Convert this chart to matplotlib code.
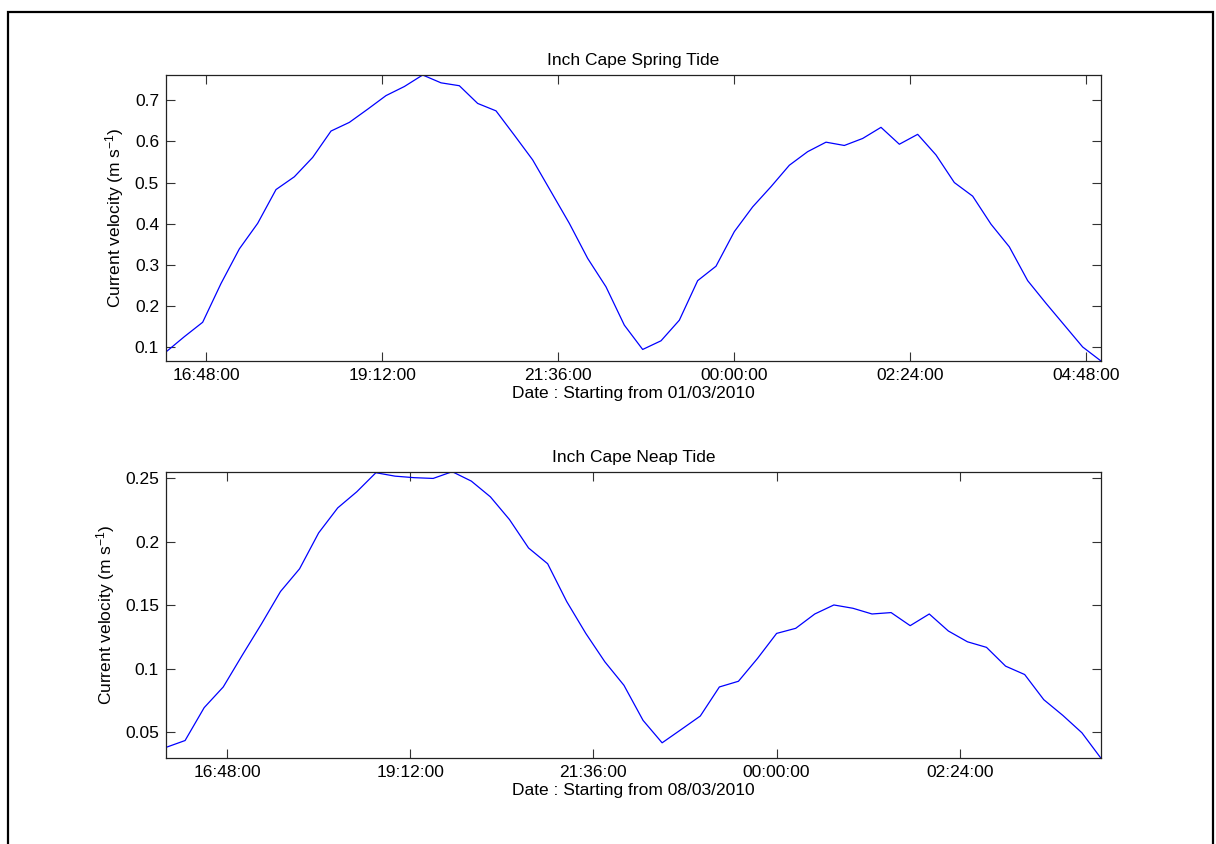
import numpy as np
import matplotlib
matplotlib.use("Agg")
import matplotlib.pyplot as plt
import matplotlib.dates as mdates
from matplotlib.patches import Rectangle

plt.rcParams['font.family'] = ['Liberation Sans', 'DejaVu Sans']
plt.rcParams['mathtext.default'] = 'regular'

# ---------------- data ----------------
spring_title = "Inch Cape Spring Tide"
neap_title = "Inch Cape Neap Tide"
spring_xlabel = "Date : Starting from 01/03/2010"
neap_xlabel = "Date : Starting from 08/03/2010"
ylabel = "Current velocity (m s$^{-1}$)"

spring_start = np.datetime64("2010-03-01T16:15")
neap_start = np.datetime64("2010-03-08T16:00")
step_minutes = 15

spring_velocity = [
    0.089, 0.126, 0.161, 0.255, 0.339, 0.401, 0.483, 0.514, 0.561, 0.625,
    0.646, 0.678, 0.711, 0.733, 0.761, 0.742, 0.735, 0.692, 0.674, 0.615,
    0.555, 0.478, 0.401, 0.316, 0.247, 0.154, 0.095, 0.116, 0.166, 0.262,
    0.297, 0.381, 0.441, 0.490, 0.542, 0.575, 0.598, 0.590, 0.607, 0.634,
    0.593, 0.617, 0.567, 0.500, 0.467, 0.399, 0.344, 0.262, 0.207, 0.154,
    0.101, 0.067,
]

neap_velocity = [
    0.0380, 0.0434, 0.0693, 0.0856, 0.1107, 0.1352, 0.1608, 0.1787, 0.2070, 0.2267,
    0.2394, 0.2544, 0.2517, 0.2505, 0.2499, 0.2552, 0.2478, 0.2354, 0.2175, 0.1951,
    0.1827, 0.1529, 0.1278, 0.1054, 0.0869, 0.0593, 0.0416, 0.0521, 0.0627, 0.0856,
    0.0901, 0.1081, 0.1278, 0.1318, 0.1431, 0.1502, 0.1476, 0.1431, 0.1442, 0.1339,
    0.1431, 0.1297, 0.1212, 0.1168, 0.1020, 0.0954, 0.0756, 0.0632, 0.0495, 0.0294,
]

spring_xticks = ["2010-03-01T16:48", "2010-03-01T19:12", "2010-03-01T21:36",
                 "2010-03-02T00:00", "2010-03-02T02:24", "2010-03-02T04:48"]
neap_xticks = ["2010-03-08T16:48", "2010-03-08T19:12", "2010-03-08T21:36",
               "2010-03-09T00:00", "2010-03-09T02:24"]

spring_yticks = [0.1, 0.2, 0.3, 0.4, 0.5, 0.6, 0.7]
spring_yticklabels = ["0.1", "0.2", "0.3", "0.4", "0.5", "0.6", "0.7"]
neap_yticks = [0.05, 0.1, 0.15, 0.2, 0.25]
neap_yticklabels = ["0.05", "0.1", "0.15", "0.2", "0.25"]

# ---------------- figure ----------------
W, H = 1216, 844
fig = plt.figure(figsize=(W / 100, H / 100), dpi=100)
fig.patch.set_facecolor('white')

# outer frame
fig.patches.append(Rectangle((8 / W, -0.05), (1213 - 8) / W, 1.05 - 12 / H + 0.0,
                             transform=fig.transFigure, fill=False,
                             edgecolor='black', linewidth=1.6))


def times(start, n):
    t = start + np.arange(n) * np.timedelta64(step_minutes, 'm')
    return t.astype('datetime64[ms]').astype(object)


def make_axes(rect, t, v, title, xlabel, xticks, yticks, yticklabels):
    ax = fig.add_axes(rect)
    ax.plot(t, v, color=(0, 0, 1), linewidth=0.9)
    ax.set_xlim(t[0], t[-1])
    ax.set_ylim(min(v), max(v))
    ax.set_xticks([np.datetime64(x).astype('datetime64[ms]').astype(object) for x in xticks])
    ax.xaxis.set_major_formatter(mdates.DateFormatter('%H:%M:%S'))
    ax.set_yticks(yticks)
    ax.set_yticklabels(yticklabels)
    ax.tick_params(direction='in', length=6.5, width=0.8, color='#333333',
                   top=True, right=True, labelsize=12.5, pad=5)
    for s in ax.spines.values():
        s.set_linewidth(0.9)
        s.set_color('#222222')
    ax.set_title(title, fontsize=12.5, pad=7)
    ax.set_xlabel(xlabel, fontsize=12.5, labelpad=2)
    ax.set_ylabel(ylabel, fontsize=12.5, labelpad=6)
    return ax


ax1 = make_axes([166 / W, 1 - 361 / H, 935 / W, 286 / H],
                times(spring_start, len(spring_velocity)), spring_velocity,
                spring_title, spring_xlabel, spring_xticks,
                spring_yticks, spring_yticklabels)
ax2 = make_axes([166 / W, 1 - 758.3 / H, 935 / W, 286.6 / H],
                times(neap_start, len(neap_velocity)), neap_velocity,
                neap_title, neap_xlabel, neap_xticks,
                neap_yticks, neap_yticklabels)

fig.savefig("out.png", dpi=100)
